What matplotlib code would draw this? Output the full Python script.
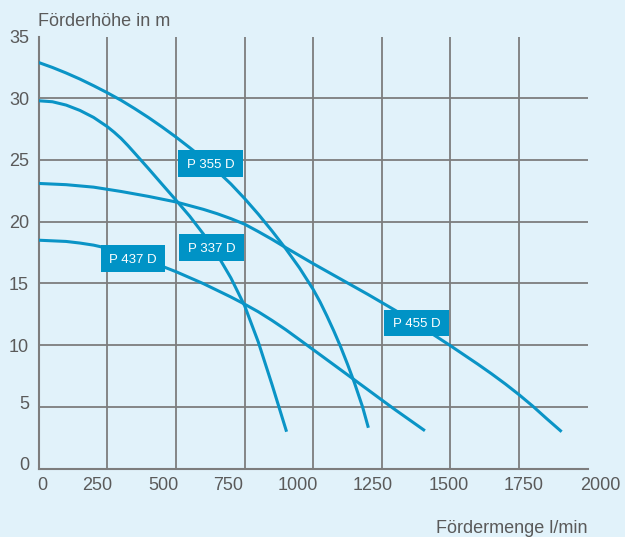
import matplotlib
matplotlib.use("Agg")
import matplotlib.pyplot as plt
from matplotlib.patches import Rectangle
from matplotlib.transforms import ScaledTranslation

plt.rcParams['font.family'] = ['Liberation Sans', 'DejaVu Sans']

# ---- data ----
p355_x = [0, 50, 100, 150, 200, 250, 300, 350, 400, 450, 500, 550, 600, 650, 700, 750, 800, 850,
          900, 950, 1000, 1025, 1050, 1075, 1100, 1125, 1150, 1180, 1201]
p355_y = [32.9, 32.5, 32.05, 31.56, 31.02, 30.45, 29.84, 29.16, 28.44, 27.67, 26.86, 26.0, 25.11, 24.12,
          23.06, 21.88, 20.61, 19.25, 17.81, 16.26, 14.51, 13.5, 12.36, 11.15, 9.86, 8.45, 6.96, 4.98, 3.3]

p337_x = [0, 50, 100, 150, 200, 250, 275, 300, 325, 350, 400, 450, 500, 550, 600, 650, 700, 750, 800,
          850, 875, 903]
p337_y = [29.8, 29.72, 29.45, 29.02, 28.45, 27.7, 27.25, 26.75, 26.17, 25.55, 24.3, 23.02, 21.75, 20.45,
          19.0, 17.35, 15.45, 13.2, 10.25, 6.8, 5.0, 2.98]

p455_x = [0, 100, 200, 300, 400, 500, 600, 650, 700, 750, 800, 850, 900, 1000, 1100, 1200, 1300, 1400,
          1500, 1600, 1650, 1700, 1750, 1800, 1850, 1905]
p455_y = [23.1, 23.0, 22.8, 22.45, 22.05, 21.6, 21.0, 20.65, 20.25, 19.8, 19.2, 18.57, 17.9, 16.6, 15.35,
          14.1, 12.8, 11.4, 9.95, 8.45, 7.67, 6.85, 5.98, 5.05, 4.05, 2.98]

p437_x = [0, 100, 150, 200, 250, 300, 400, 500, 600, 700, 750, 800, 850, 900, 1000, 1100, 1200, 1250,
          1300, 1407]
p437_y = [18.5, 18.4, 18.27, 18.1, 17.85, 17.55, 16.82, 15.95, 14.98, 13.9, 13.32, 12.7, 12.0, 11.25,
          9.63, 8.0, 6.37, 5.55, 4.74, 3.06]

series_names = ["P 355 D", "P 337 D", "P 437 D", "P 455 D"]
label_x = [626, 629, 344, 1377]
label_y = [24.7, 17.9, 17.0, 11.8]

x_ticks = [0, 250, 500, 750, 1000, 1250, 1500, 1750, 2000]
y_ticks = [0, 5, 10, 15, 20, 25, 30, 35]
x_title = "Fördermenge l/min"
y_title = "Förderhöhe in m"

# ---- style ----
BG = "#e1f2fa"
LINE = "#0a94c6"
BOX = "#0093c6"
GRID = "#7d7d7d"
TXT = "#5a5a5a"

fig = plt.figure(figsize=(6.25, 5.37), dpi=100, facecolor=BG)
ax = fig.add_axes([38.7 / 625, 68.5 / 537, (587.7 - 38.7) / 625, (468.5 - 36.6) / 537])
ax.set_facecolor(BG)
ax.set_xlim(0, 2000)
ax.set_ylim(0, 35)

# grid (interior lines only)
ax.vlines(x_ticks[1:-1], 0, 35, colors=GRID, lw=1.3, zorder=1)
ax.hlines(y_ticks[1:-1], 0, 2000, colors=GRID, lw=1.3, zorder=1)

for s in ["top", "right"]:
    ax.spines[s].set_visible(False)
for s in ["left", "bottom"]:
    ax.spines[s].set_color(GRID)
    ax.spines[s].set_linewidth(1.5)

ax.set_xticks(x_ticks)
ax.set_yticks(y_ticks)
ax.tick_params(axis='both', length=0, labelsize=13, labelcolor=TXT)
ax.tick_params(axis='x', pad=6)
ax.tick_params(axis='y', pad=7)

# small label offsets as in the reference (in pixels)
x_off = [3.8, -10, -13, -16, -15, -9, -2, 5, 13]
for lab, dx in zip(ax.get_xticklabels(), x_off):
    lab.set_transform(lab.get_transform() + ScaledTranslation(dx / 100, 0, fig.dpi_scale_trans))
y_off = [5.5, 4, 0, 0, 0, 0, 0, 0]
for lab, dy in zip(ax.get_yticklabels(), y_off):
    lab.set_transform(lab.get_transform() + ScaledTranslation(0, dy / 100, fig.dpi_scale_trans))

# curves
for xs, ys in [(p355_x, p355_y), (p337_x, p337_y), (p455_x, p455_y), (p437_x, p437_y)]:
    ax.plot(xs, ys, color=LINE, lw=2.2, solid_capstyle='butt', solid_joinstyle='round', zorder=3)

# label boxes
bw, bh = 235, 2.16
for name, cx, cy in zip(series_names, label_x, label_y):
    ax.add_patch(Rectangle((cx - bw / 2, cy - bh / 2), bw, bh, facecolor=BOX, edgecolor='none', zorder=4))
    ax.text(cx, cy, name, color='white', fontsize=9.5, ha='center', va='center_baseline', zorder=5)

fig.text(38 / 625, 1 - 26 / 537, y_title, fontsize=13, color=TXT, ha='left', va='baseline')
fig.text(587 / 625, 1 - 533 / 537, x_title, fontsize=13, color=TXT, ha='right', va='baseline')

fig.savefig("out.png", dpi=100, facecolor=BG)
